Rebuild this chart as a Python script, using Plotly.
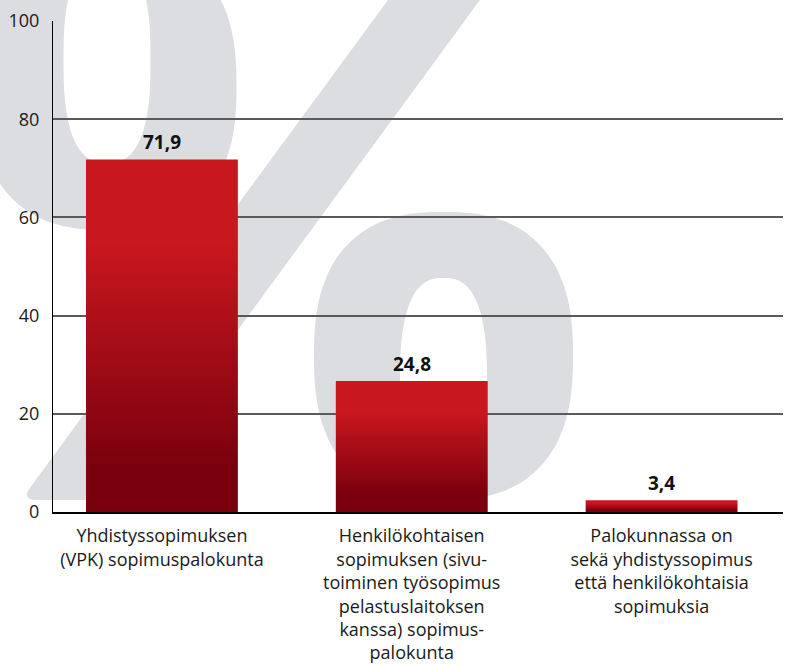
import numpy as np
import plotly.graph_objects as go

# ---- data ----
categories = [
    "Yhdistyssopimuksen<br>(VPK) sopimuspalokunta",
    "Henkilökohtaisen<br>sopimuksen (sivu-<br>toiminen työsopimus<br>pelastuslaitoksen<br>kanssa) sopimus-<br>palokunta",
    "Palokunnassa on<br>sekä yhdistyssopimus<br>että henkilökohtaisia<br>sopimuksia",
]
bar_heights = [71.8, 26.7, 2.4]          # bar heights as drawn
value_labels = ["71,9", "24,8", "3,4"]     # printed value labels
y_ticks = [0, 20, 40, 60, 80, 100]

# ---- style ----
FONT = "Open Sans"
DARK = "#7b000e"
BRIGHT = "#c8171e"
GREY = "#dcdde0"
BAR_W = 0.608

W, H = 786, 666
L, R, T, B = 53, 3, 21, 154
PW, PH = W - L - R, H - T - B

fig = go.Figure()

# bars (vertical gradient fill)
for i, h in enumerate(bar_heights):
    x0, x1 = i - BAR_W / 2, i + BAR_W / 2
    fig.add_trace(go.Scatter(
        x=[x0, x1, x1, x0, x0], y=[0, 0, h, h, 0],
        mode="lines", line=dict(width=0), fill="toself",
        fillgradient=dict(type="vertical",
                          colorscale=[[0, DARK], [0.13, DARK], [0.76, BRIGHT], [1, BRIGHT]]),
        hoverinfo="skip", showlegend=False,
    ))

# value labels
for i, (h, lab) in enumerate(zip(bar_heights, value_labels)):
    fig.add_annotation(x=i, y=h, text="<b>%s</b>" % lab, showarrow=False,
                       yanchor="bottom", yshift=2,
                       font=dict(family=FONT, size=19, color="#111111"))

# ---- decorative "%" background (pixel geometry -> paper coords) ----
def px(x):
    return (x - L) / PW

def py(y):
    return (T + PH - y) / PH

def superellipse(cx, cy, a, b, n, reverse=False, npts=140):
    t = np.linspace(0, 2 * np.pi, npts, endpoint=False)
    if reverse:
        t = t[::-1]
    c, s = np.cos(t), np.sin(t)
    xs = cx + a * np.sign(c) * np.abs(c) ** (2 / n)
    ys = cy + b * np.sign(s) * np.abs(s) ** (2 / n)
    pts = ["%.5f,%.5f" % (px(x), py(y)) for x, y in zip(xs, ys)]
    return "M" + " L".join(pts) + " Z"

ring_top = superellipse(107, 86, 129.5, 144, 2.5) + " " + superellipse(107, 60, 43.5, 103, 2.6, reverse=True)
ring_bot = superellipse(443.5, 356, 129.5, 144, 2.5) + " " + superellipse(443.5, 381, 43.5, 103, 2.6, reverse=True)

k = 0.734
slash_pts = [(388 + k * 30, -30), (480 + k * 30, -30), (480 - k * 500, 500)]
slash = "M %.5f,%.5f L %.5f,%.5f L %.5f,%.5f" % tuple(v for p in slash_pts for v in (px(p[0]), py(p[1])))
slash += " L %.5f,%.5f Q %.5f,%.5f %.5f,%.5f Z" % (
    px(38), py(500), px(21), py(500), px(388 - k * 488), py(488))

for p in (ring_top, ring_bot, slash):
    fig.add_shape(type="path", path=p, xref="paper", yref="paper",
                  fillcolor=GREY, line=dict(width=0), layer="below")

fig.update_layout(
    width=W, height=H, autosize=False,
    margin=dict(l=L, r=R, t=T, b=B, pad=0),
    paper_bgcolor="white", plot_bgcolor="rgba(0,0,0,0)",
    showlegend=False,
    font=dict(family=FONT, size=18, color="#1a1a1a"),
)
fig.update_xaxes(
    range=[-0.436, 2.486], tickvals=list(range(len(categories))), ticktext=categories,
    showgrid=False, zeroline=False, showline=True, linecolor="black", linewidth=1.5,
    ticks="", ticklabelstandoff=7,
    tickfont=dict(family=FONT, size=18, color="#1a1a1a"), fixedrange=True,
)
fig.update_yaxes(
    range=[0, 100], tickvals=y_ticks, showgrid=True, gridcolor="#5a5a5a", gridwidth=1.5,
    zeroline=True, zerolinecolor="black", zerolinewidth=1.5,
    showline=True, linecolor="black", linewidth=1, ticks="",
    ticklabelstandoff=9, tickfont=dict(family=FONT, size=18, color="#1a1a1a"), fixedrange=True,
)

fig.write_html(
    "out.html",
    config={"displayModeBar": False},
    post_script="document.body.style.margin='0';document.body.style.overflow='hidden';",
)
